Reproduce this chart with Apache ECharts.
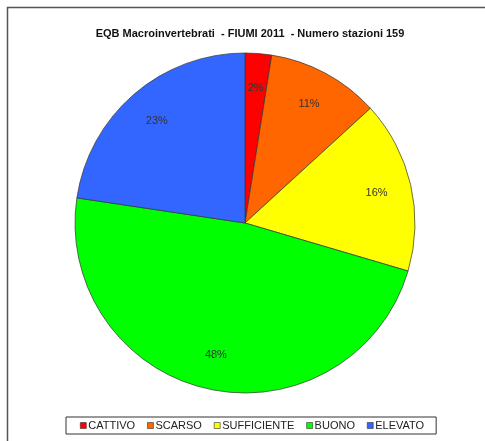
<!DOCTYPE html>
<html>
<head>
<meta charset="utf-8">
<script src="https://cdn.jsdelivr.net/npm/echarts@6/dist/echarts.min.js"></script>
<style>
  html, body { margin: 0; padding: 0; background: #fff; }
  #chartWrap { width: 485px; height: 441px; }
</style>
</head>
<body>
<div id="chartWrap"></div>
<script>
// classi di stato EQB e numero di stazioni (totale 159)
const categories = ['CATTIVO', 'SCARSO', 'SUFFICIENTE', 'BUONO', 'ELEVATO'];
const stations = [4, 17, 26, 76, 36];
const colors = ['#ff0000', '#ff6600', '#ffff00', '#00ff00', '#3366ff'];

const myChart = echarts.init(document.getElementById('chartWrap'));

const data = categories.map(function (name, i) {
    return {name: name, value: stations[i]};
});

myChart.setOption({
    color: colors,
    animation: false,
    title: {
        text: 'EQB Macroinvertebrati  - FIUMI 2011  - Numero stazioni 159',
        left: 245,
        top: 23,
        textAlign: 'center',
        textStyle: {
            fontFamily: 'Liberation Sans, Arial, sans-serif',
            fontSize: 11,
            fontWeight: 'bold',
            color: '#111'
        }
    },
    legend: {
        data: categories,
        left: 66,
        top: 417,
        icon: 'rect',
        itemWidth: 6,
        itemHeight: 6,
        itemGap: 12,
        padding: [3, 12, 3, 14],
        borderColor: '#333',
        borderWidth: 1,
        itemStyle: {borderColor: '#333', borderWidth: 0.6},
        textStyle: {
            fontFamily: 'Liberation Sans, Arial, sans-serif',
            fontSize: 11,
            color: '#222',
            padding: [0, 0, 0, -3]
        }
    },
    graphic: [{
        type: 'rect',
        shape: {x: 7.5, y: 7.5, width: 500, height: 460},
        style: {fill: 'none', stroke: '#555', lineWidth: 1.5},
        silent: true
    }],
    series: [
        {
            name: 'stazioni',
            type: 'pie',
            center: [245, 223],
            radius: 170,
            startAngle: 90,
            clockwise: true,
            silent: true,
            label: {show: false},
            labelLine: {show: false},
            itemStyle: {borderColor: '#333', borderWidth: 0.7},
            data: data
        },
        {
            // anello trasparente solo per posizionare le percentuali
            name: 'etichette',
            type: 'pie',
            center: [245, 223],
            radius: [94, 170],
            startAngle: 90,
            clockwise: true,
            silent: true,
            percentPrecision: 0,
            itemStyle: {color: 'rgba(0,0,0,0)', borderWidth: 0},
            label: {
                show: true,
                position: 'inside',
                formatter: '{d}%',
                fontFamily: 'Liberation Sans, Arial, sans-serif',
                fontSize: 11,
                color: '#333'
            },
            labelLine: {show: false},
            data: data
        }
    ]
});
</script>
</body>
</html>
